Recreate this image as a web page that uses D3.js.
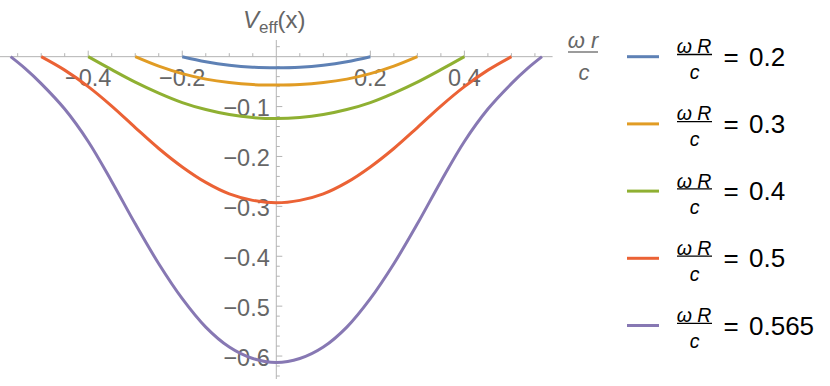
<!DOCTYPE html>
<html>
<head>
<meta charset="utf-8">
<script src="https://cdn.jsdelivr.net/npm/d3@7"></script>
<style>
  html, body { margin: 0; padding: 0; background: #fff; }
  svg { display: block; font-family: "Liberation Sans", Arial, sans-serif; }
</style>
</head>
<body>
<div id="chart"></div>
<script>
// Values (x = ωr/c, V_eff(x)).
const legendValues = ["0.2", "0.3", "0.4", "0.5", "0.565"];
const colors = ["#5E81B5", "#E19C24", "#8FB032", "#EB6235", "#8778B3"];

const x02 = [-0.2, -0.15, -0.1, -0.05, 0, 0.05, 0.1, 0.15, 0.2];
const v02 = [0, -0.010, -0.017, -0.021, -0.022, -0.021, -0.017, -0.010, 0];

const x03 = [-0.3, -0.25, -0.2, -0.15, -0.1, -0.05, 0, 0.05, 0.1, 0.15, 0.2, 0.25, 0.3];
const v03 = [0, -0.019, -0.034, -0.045, -0.052, -0.056, -0.057, -0.056, -0.052, -0.045, -0.034, -0.019, 0];

const x04 = [-0.4, -0.35, -0.3, -0.25, -0.2, -0.15, -0.1, -0.05, 0, 0.05, 0.1, 0.15, 0.2, 0.25, 0.3, 0.35, 0.4];
const v04 = [0, -0.026, -0.051, -0.073, -0.092, -0.106, -0.116, -0.122, -0.124, -0.122, -0.116, -0.106, -0.092, -0.073, -0.051, -0.026, 0];

const x05 = [-0.5, -0.45, -0.4, -0.35, -0.3, -0.25, -0.2, -0.15, -0.1, -0.05, 0, 0.05, 0.1, 0.15, 0.2, 0.25, 0.3, 0.35, 0.4, 0.45, 0.5];
const v05 = [0, -0.027, -0.060, -0.099, -0.142, -0.184, -0.221, -0.252, -0.275, -0.288, -0.293, -0.288, -0.275, -0.252, -0.221, -0.184, -0.142, -0.099, -0.060, -0.027, 0];

const x0565 = [-0.565, -0.535, -0.5, -0.45, -0.4, -0.35, -0.3, -0.25, -0.2, -0.15, -0.1, -0.05, 0, 0.05, 0.1, 0.15, 0.2, 0.25, 0.3, 0.35, 0.4, 0.45, 0.5, 0.535, 0.565];
const v0565 = [0, -0.023, -0.054, -0.105, -0.170, -0.250, -0.335, -0.415, -0.485, -0.542, -0.582, -0.605, -0.613, -0.605, -0.582, -0.542, -0.485, -0.415, -0.335, -0.250, -0.170, -0.105, -0.054, -0.023, 0];

const xTickLabels = [-0.4, -0.2, 0.2, 0.4];
const yTickLabels = [-0.1, -0.2, -0.3, -0.4, -0.5, -0.6];

const seriesX = [x02, x03, x04, x05, x0565];
const seriesV = [v02, v03, v04, v05, v0565];

const width = 830;
const height = 386;

const svg = d3.select("#chart")
  .append("svg")
    .attr("width", width)
    .attr("height", height);

// Scales: the axes cross at the origin.
const x = d3.scaleLinear().domain([-0.5876, 0.5876]).range([0, 552.6]);
const y = d3.scaleLinear().domain([0.0334, -0.646]).range([40, 379]);

const axisColor = "#b4b4b4";
const labelColor = "#666666";
const fmt = d => (d < 0 ? "\u2212" : "") + Math.abs(d).toFixed(1);

// Axis lines
svg.append("line")
  .attr("x1", x.range()[0]).attr("x2", x.range()[1])
  .attr("y1", y(0)).attr("y2", y(0))
  .attr("stroke", axisColor).attr("stroke-width", 1);
svg.append("line")
  .attr("x1", x(0)).attr("x2", x(0))
  .attr("y1", y.range()[0]).attr("y2", y.range()[1])
  .attr("stroke", axisColor).attr("stroke-width", 1);

// x ticks (every 0.05, pointing up)
const xTicks = d3.range(-11, 12).filter(i => i !== 0).map(i => i * 0.05);
svg.append("g").selectAll("line")
  .data(xTicks)
  .join("line")
    .attr("x1", d => x(d)).attr("x2", d => x(d))
    .attr("y1", y(0))
    .attr("y2", d => y(0) - (Math.abs(Math.round(d * 100)) % 20 === 0 ? 6 : 3.5))
    .attr("stroke", axisColor);

svg.append("g").selectAll("text")
  .data(xTickLabels)
  .join("text")
    .attr("x", d => x(d))
    .attr("y", y(0) + 29.5)
    .attr("text-anchor", "middle")
    .attr("fill", labelColor)
    .attr("font-size", 23.5)
    .text(fmt);

// y ticks (every 0.02, pointing right)
const yTicks = d3.range(-32, 2).filter(i => i !== 0).map(i => i * 0.02);
svg.append("g").selectAll("line")
  .data(yTicks)
  .join("line")
    .attr("y1", d => y(d)).attr("y2", d => y(d))
    .attr("x1", x(0))
    .attr("x2", d => x(0) + (Math.abs(Math.round(d * 100)) % 10 === 0 ? 6 : 3.5))
    .attr("stroke", axisColor);

svg.append("g").selectAll("text")
  .data(yTickLabels)
  .join("text")
    .attr("x", x(0) - 6.5)
    .attr("y", d => y(d) + 9.5)
    .attr("text-anchor", "end")
    .attr("fill", labelColor)
    .attr("font-size", 23.5)
    .text(fmt);

// Curves
const line = d3.line()
  .x(d => x(d[0]))
  .y(d => y(d[1]))
  .curve(d3.curveCatmullRom.alpha(0.5));

svg.append("g").selectAll("path")
  .data(seriesX.map((xs, i) => xs.map((v, j) => [v, seriesV[i][j]])))
  .join("path")
    .attr("fill", "none")
    .attr("stroke", (d, i) => colors[i])
    .attr("stroke-width", 3)
    .attr("d", line);

// Axis labels
const yLab = svg.append("text")
  .attr("x", 243)
  .attr("y", 28)
  .attr("fill", labelColor)
  .attr("font-size", 24);
yLab.append("tspan").attr("font-style", "italic").text("V");
yLab.append("tspan").attr("font-size", 17).attr("dy", 5).text("eff");
yLab.append("tspan").attr("dy", -5).text("(x)");

svg.append("text")
  .attr("x", 583).attr("y", 48)
  .attr("text-anchor", "middle")
  .attr("font-style", "italic")
  .attr("font-size", 22)
  .attr("fill", labelColor)
  .text("\u03c9 r");
svg.append("line")
  .attr("x1", 568).attr("x2", 598)
  .attr("y1", 52).attr("y2", 52)
  .attr("stroke", labelColor).attr("stroke-width", 1.3);
svg.append("text")
  .attr("x", 584).attr("y", 80)
  .attr("text-anchor", "middle")
  .attr("font-style", "italic")
  .attr("font-size", 22)
  .attr("fill", labelColor)
  .text("c");

// Legend
const legend = svg.append("g").selectAll("g")
  .data(legendValues)
  .join("g")
    .attr("transform", (d, i) => `translate(0,${56.7 + i * 67.2})`);

legend.append("line")
  .attr("x1", 627).attr("x2", 659)
  .attr("stroke", (d, i) => colors[i])
  .attr("stroke-width", 3);

legend.append("text")
  .attr("x", 694).attr("y", -3.5)
  .attr("text-anchor", "middle")
  .attr("font-style", "italic")
  .attr("font-size", 19.5)
  .text("\u03c9 R");

legend.append("line")
  .attr("x1", 677).attr("x2", 712)
  .attr("y1", -2.2).attr("y2", -2.2)
  .attr("stroke", "#000").attr("stroke-width", 1.3);

legend.append("text")
  .attr("x", 694.5).attr("y", 22.5)
  .attr("text-anchor", "middle")
  .attr("font-style", "italic")
  .attr("font-size", 19.5)
  .text("c");

legend.append("text")
  .attr("x", 723.5).attr("y", 9)
  .attr("font-size", 26)
  .text("=");

legend.append("text")
  .attr("x", 749).attr("y", 9)
  .attr("font-size", 26)
  .text(d => d);
</script>
</body>
</html>
